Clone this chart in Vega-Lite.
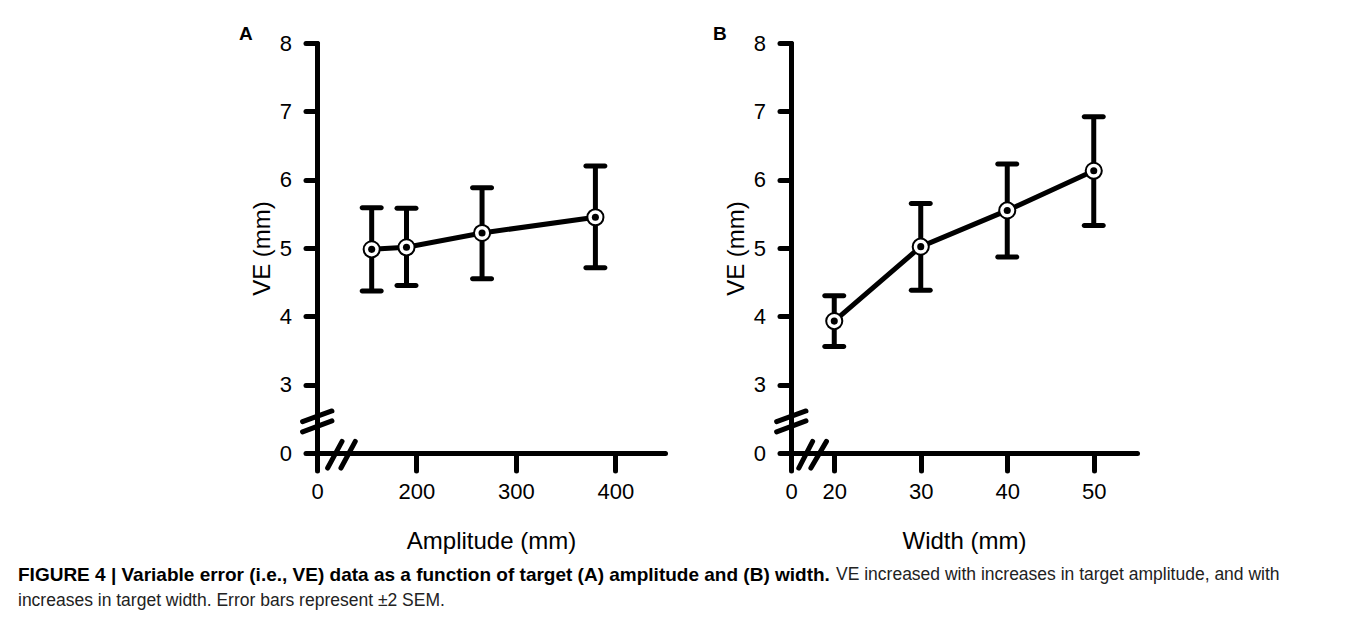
{
  "$schema": "https://vega.github.io/schema/vega-lite/v6.json",
  "padding": {"left": 18, "top": 25, "right": 0, "bottom": 0},
  "autosize": {"type": "pad"},
  "background": "white",
  "config": {
    "view": {"stroke": null},
    "font": "Liberation Sans",
    "axis": {
      "grid": false,
      "domainColor": "black",
      "domainWidth": 5,
      "domainCap": "round",
      "tickColor": "black",
      "tickWidth": 5,
      "tickCap": "round",
      "labelFont": "Liberation Sans",
      "labelFontSize": 22,
      "labelColor": "black",
      "labelFlush": false,
      "labelOverlap": false,
      "titleFont": "Liberation Sans",
      "titleFontSize": 24,
      "titleFontWeight": "normal",
      "titleColor": "black"
    },
    "axisX": {"tickSize": 17.5, "labelPadding": 11, "titlePadding": 27},
    "axisY": {"tickSize": 11.5, "labelPadding": 14, "titlePadding": 5}
  },
  "vconcat": [
    {
      "spacing": 48,
      "hconcat": [
        {
          "width": 173,
          "height": 10,
          "data": {"values": [{"t": ""}]},
          "mark": "text",
          "encoding": {"text": {"field": "t"}}
        },
        {
          "width": 348,
          "height": 410,
          "title": {"text": "A", "anchor": "start", "frame": "group", "fontSize": 19, "fontWeight": "bold", "color": "black", "dx": -78, "offset": -12},
          "data": {"values": [
            {"amp": 155, "ve": 4.98, "lo": 4.37, "hi": 5.59},
            {"amp": 190, "ve": 5.01, "lo": 4.45, "hi": 5.58},
            {"amp": 266, "ve": 5.22, "lo": 4.55, "hi": 5.88},
            {"amp": 380, "ve": 5.45, "lo": 4.71, "hi": 6.20}
          ]},
          "layer": [
            {
              "mark": {"type": "rule", "strokeWidth": 5, "color": "black"},
              "encoding": {
                "x": {"field": "amp", "type": "quantitative", "scale": {"domain": [100, 450]},
                      "axis": {"values": [100, 200, 300, 400], "labelExpr": "datum.value == 100 ? '0' : format(datum.value, 'd')", "title": "Amplitude (mm)"}},
                "y": {"field": "lo", "type": "quantitative", "scale": {"domain": [2, 8]},
                      "axis": {"values": [2, 3, 4, 5, 6, 7, 8], "labelExpr": "datum.value == 2 ? '0' : format(datum.value, 'd')", "title": "VE (mm)"}},
                "y2": {"field": "hi"}
              }
            },
            {
              "mark": {"type": "tick", "orient": "horizontal", "thickness": 5, "size": 24, "color": "black", "cornerRadius": 2.5, "opacity": 1},
              "encoding": {"x": {"field": "amp", "type": "quantitative"}, "y": {"field": "lo", "type": "quantitative"}}
            },
            {
              "mark": {"type": "tick", "orient": "horizontal", "thickness": 5, "size": 24, "color": "black", "cornerRadius": 2.5, "opacity": 1},
              "encoding": {"x": {"field": "amp", "type": "quantitative"}, "y": {"field": "hi", "type": "quantitative"}}
            },
            {
              "mark": {"type": "line", "strokeWidth": 5, "color": "black"},
              "encoding": {"x": {"field": "amp", "type": "quantitative"}, "y": {"field": "ve", "type": "quantitative"}}
            },
            {
              "mark": {"type": "point", "shape": "circle", "filled": true, "fill": "white", "stroke": "black", "strokeWidth": 2, "size": 260, "opacity": 1},
              "encoding": {"x": {"field": "amp", "type": "quantitative"}, "y": {"field": "ve", "type": "quantitative"}}
            },
            {
              "mark": {"type": "point", "shape": "circle", "filled": true, "color": "black", "size": 50, "opacity": 1},
              "encoding": {"x": {"field": "amp", "type": "quantitative"}, "y": {"field": "ve", "type": "quantitative"}}
            },
            {
              "data": {"values": [
                {"bx1": 85.5, "by1": 2.46, "bx2": 115, "by2": 2.615},
                {"bx1": 85.5, "by1": 2.31, "bx2": 115, "by2": 2.47},
                {"bx1": 110.7, "by1": 1.78, "bx2": 125.2, "by2": 2.17},
                {"bx1": 124.1, "by1": 1.78, "bx2": 138.5, "by2": 2.17}
              ]},
              "mark": {"type": "rule", "strokeWidth": 5, "color": "black", "strokeCap": "round"},
              "encoding": {
                "x": {"field": "bx1", "type": "quantitative"},
                "y": {"field": "by1", "type": "quantitative"},
                "x2": {"field": "bx2"},
                "y2": {"field": "by2"}
              }
            }
          ]
        },
        {
          "width": 346,
          "height": 410,
          "title": {"text": "B", "anchor": "start", "frame": "group", "fontSize": 19, "fontWeight": "bold", "color": "black", "dx": -78, "offset": -12},
          "data": {"values": [
            {"w": 20, "ve": 3.93, "lo": 3.56, "hi": 4.30},
            {"w": 30, "ve": 5.02, "lo": 4.38, "hi": 5.65},
            {"w": 40, "ve": 5.55, "lo": 4.87, "hi": 6.23},
            {"w": 50, "ve": 6.13, "lo": 5.33, "hi": 6.92}
          ]},
          "layer": [
            {
              "mark": {"type": "rule", "strokeWidth": 5, "color": "black"},
              "encoding": {
                "x": {"field": "w", "type": "quantitative", "scale": {"domain": [15, 55]},
                      "axis": {"values": [15, 20, 30, 40, 50], "labelExpr": "datum.value == 15 ? '0' : format(datum.value, 'd')", "title": "Width (mm)"}},
                "y": {"field": "lo", "type": "quantitative", "scale": {"domain": [2, 8]},
                      "axis": {"values": [2, 3, 4, 5, 6, 7, 8], "labelExpr": "datum.value == 2 ? '0' : format(datum.value, 'd')", "title": "VE (mm)"}},
                "y2": {"field": "hi"}
              }
            },
            {
              "mark": {"type": "tick", "orient": "horizontal", "thickness": 5, "size": 24, "color": "black", "cornerRadius": 2.5, "opacity": 1},
              "encoding": {"x": {"field": "w", "type": "quantitative"}, "y": {"field": "lo", "type": "quantitative"}}
            },
            {
              "mark": {"type": "tick", "orient": "horizontal", "thickness": 5, "size": 24, "color": "black", "cornerRadius": 2.5, "opacity": 1},
              "encoding": {"x": {"field": "w", "type": "quantitative"}, "y": {"field": "hi", "type": "quantitative"}}
            },
            {
              "mark": {"type": "line", "strokeWidth": 5, "color": "black"},
              "encoding": {"x": {"field": "w", "type": "quantitative"}, "y": {"field": "ve", "type": "quantitative"}}
            },
            {
              "mark": {"type": "point", "shape": "circle", "filled": true, "fill": "white", "stroke": "black", "strokeWidth": 2, "size": 260, "opacity": 1},
              "encoding": {"x": {"field": "w", "type": "quantitative"}, "y": {"field": "ve", "type": "quantitative"}}
            },
            {
              "mark": {"type": "point", "shape": "circle", "filled": true, "color": "black", "size": 50, "opacity": 1},
              "encoding": {"x": {"field": "w", "type": "quantitative"}, "y": {"field": "ve", "type": "quantitative"}}
            },
            {
              "data": {"values": [
                {"bx1": 13.34, "by1": 2.46, "bx2": 16.73, "by2": 2.615},
                {"bx1": 13.34, "by1": 2.31, "bx2": 16.73, "by2": 2.47},
                {"bx1": 15.9, "by1": 1.78, "bx2": 17.5, "by2": 2.17},
                {"bx1": 17.3, "by1": 1.78, "bx2": 19.1, "by2": 2.17}
              ]},
              "mark": {"type": "rule", "strokeWidth": 5, "color": "black", "strokeCap": "round"},
              "encoding": {
                "x": {"field": "bx1", "type": "quantitative"},
                "y": {"field": "by1", "type": "quantitative"},
                "x2": {"field": "bx2"},
                "y2": {"field": "by2"}
              }
            }
          ]
        }
      ]
    },
    {
      "width": 1320,
      "height": 52,
      "data": {"values": [
        {"line": 1, "seg": "b", "text": "FIGURE 4 | Variable error (i.e., VE) data as a function of target (A) amplitude and (B) width."},
        {"line": 1, "seg": "n", "text": "VE increased with increases in target amplitude, and with"},
        {"line": 2, "seg": "m", "text": "increases in target width. Error bars represent ±2 SEM."}
      ]},
      "layer": [
        {
          "transform": [{"filter": "datum.seg == 'b'"}],
          "mark": {"type": "text", "align": "left", "baseline": "middle", "x": 0, "fontSize": 19, "fontWeight": "bold", "color": "black"},
          "encoding": {"y": {"field": "line", "type": "ordinal", "axis": null}, "text": {"field": "text"}}
        },
        {
          "transform": [{"filter": "datum.seg == 'n'"}],
          "mark": {"type": "text", "align": "left", "baseline": "middle", "x": 0, "dx": 818, "fontSize": 17.5, "color": "#222"},
          "encoding": {"y": {"field": "line", "type": "ordinal", "axis": null}, "text": {"field": "text"}}
        },
        {
          "transform": [{"filter": "datum.seg == 'm'"}],
          "mark": {"type": "text", "align": "left", "baseline": "middle", "x": 0, "fontSize": 17.5, "color": "#222"},
          "encoding": {"y": {"field": "line", "type": "ordinal", "axis": null}, "text": {"field": "text"}}
        }
      ]
    }
  ],
  "spacing": 8
}
